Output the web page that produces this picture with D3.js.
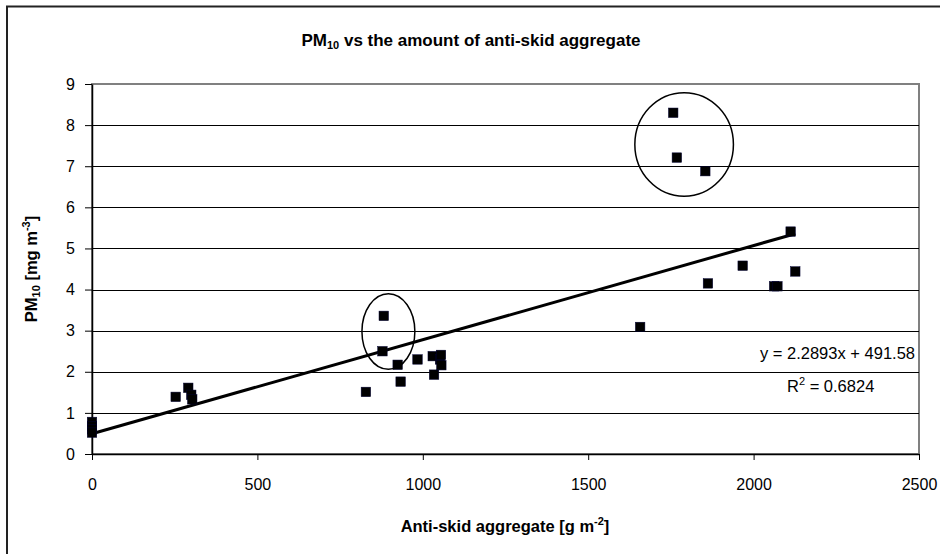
<!DOCTYPE html>
<html>
<head>
<meta charset="utf-8">
<script src="https://cdn.jsdelivr.net/npm/d3@7"></script>
<style>
  body { margin: 0; background: #fff; }
  svg { display: block; font-family: "Liberation Sans", Arial, sans-serif; }
</style>
</head>
<body>
<svg id="chart" width="940" height="554"></svg>
<script>
// anti-skid aggregate [g m-2] and PM10 [mg m-3]
const aggregate = [0, 0, 0, 0, 253, 291, 300, 303, 828, 878, 882, 924, 933, 984, 1030, 1034, 1052, 1055, 1056,
                   1657, 1757, 1768, 1854, 1862, 1967, 2062, 2072, 2112, 2126];
const pm10 = [0.78, 0.68, 0.6, 0.52, 1.39, 1.61, 1.44, 1.33, 1.51, 2.5, 3.36, 2.17, 1.76, 2.3, 2.38, 1.93, 2.3, 2.41, 2.16,
              3.09, 8.3, 7.21, 6.88, 4.15, 4.58, 4.08, 4.08, 5.41, 4.44];

const xTicks = [0, 500, 1000, 1500, 2000, 2500];
const yTicks = [0, 1, 2, 3, 4, 5, 6, 7, 8, 9];

// trendline as shown on the chart (x scaled by 1000 in the label)
const trendSlope = 0.0022893;
const trendIntercept = 0.49158;
const equationText = "y = 2.2893x + 491.58";
const r2Value = "0.6824";

// hand-drawn ellipses around outliers: centre and radii in data units
const ellipseCx = [1790, 896];
const ellipseCy = [7.53, 2.98];
const ellipseRx = [149, 80];
const ellipseRy = [1.26, 0.92];

const svg = d3.select("#chart");

// outer chart border (only the top and left edges are inside the picture)
svg.append("path")
    .attr("d", "M7,554 L7,6.5 L940,6.5")
    .attr("fill", "none")
    .attr("stroke", "#222")
    .attr("stroke-width", 2);

const plot = { left: 92, top: 84, right: 919, bottom: 454 };

const x = d3.scaleLinear().domain([0, 2500]).range([plot.left, plot.right]);
const y = d3.scaleLinear().domain([0, 9]).range([plot.bottom, plot.top]);

// plot area frame
svg.append("rect")
    .attr("x", plot.left)
    .attr("y", plot.top)
    .attr("width", plot.right - plot.left)
    .attr("height", plot.bottom - plot.top)
    .attr("fill", "#fff")
    .attr("stroke", "#808080")
    .attr("stroke-width", 2);

// horizontal gridlines
svg.append("g")
    .selectAll("line")
    .data(yTicks.filter(d => d > 0 && d < 9))
    .enter()
    .append("line")
    .attr("x1", plot.left)
    .attr("x2", plot.right)
    .attr("y1", d => Math.round(y(d)) + 0.5)
    .attr("y2", d => Math.round(y(d)) + 0.5)
    .attr("stroke", "#000")
    .attr("stroke-width", 1);

const xAxis = d3.axisBottom(x).tickValues(xTicks).tickFormat(d3.format("d"))
    .tickSize(6).tickSizeOuter(0).tickPadding(19);
const yAxis = d3.axisLeft(y).tickValues(yTicks).tickSize(7).tickSizeOuter(0).tickPadding(10);

svg.append("g")
    .attr("transform", `translate(0,${plot.bottom})`)
    .call(xAxis)
    .call(g => g.select(".domain").attr("stroke", "#000").attr("stroke-width", 1.5))
    .call(g => g.selectAll("line").attr("stroke", "#000"))
    .call(g => g.selectAll("text").attr("font-size", 16).attr("fill", "#000").attr("font-family", "Liberation Sans, Arial"));

svg.append("g")
    .attr("transform", `translate(${plot.left},0)`)
    .call(yAxis)
    .call(g => g.select(".domain").attr("stroke", "#000").attr("stroke-width", 1.5))
    .call(g => g.selectAll("line").attr("stroke", "#000"))
    .call(g => g.selectAll("text").attr("font-size", 16).attr("fill", "#000").attr("font-family", "Liberation Sans, Arial"));

// trendline
const xMax = d3.max(aggregate);
svg.append("line")
    .attr("x1", x(0))
    .attr("y1", y(trendIntercept))
    .attr("x2", x(xMax))
    .attr("y2", y(trendIntercept + trendSlope * xMax))
    .attr("stroke", "#000")
    .attr("stroke-width", 3);

// markers
const points = aggregate.map((v, i) => ({ a: v, p: pm10[i] }));
const ms = 9.5;
svg.append("g")
    .selectAll("rect")
    .data(points)
    .enter()
    .append("rect")
    .attr("x", d => x(d.a) - ms / 2)
    .attr("y", d => y(d.p) - ms / 2)
    .attr("width", ms)
    .attr("height", ms)
    .attr("fill", "#000")
    .attr("stroke", "#000033")
    .attr("stroke-width", 0.5);

// ellipses
svg.append("g")
    .selectAll("ellipse")
    .data(ellipseCx.map((cx, i) => ({ cx, cy: ellipseCy[i], rx: ellipseRx[i], ry: ellipseRy[i] })))
    .enter()
    .append("ellipse")
    .attr("cx", d => x(d.cx))
    .attr("cy", d => y(d.cy))
    .attr("rx", d => x(d.rx) - x(0))
    .attr("ry", d => y(0) - y(d.ry))
    .attr("fill", "none")
    .attr("stroke", "#000")
    .attr("stroke-width", 1.5);

// equation labels
svg.append("text")
    .attr("x", 915)
    .attr("y", 359)
    .attr("text-anchor", "end")
    .attr("font-size", 16.5)
    .text(equationText);

const r2 = svg.append("text")
    .attr("x", 787)
    .attr("y", 392)
    .attr("font-size", 16.5);
r2.append("tspan").text("R");
r2.append("tspan").attr("dy", -7).attr("font-size", 11).text("2");
r2.append("tspan").attr("dy", 7).text(" = " + r2Value);

// title
const title = svg.append("text")
    .attr("x", 471)
    .attr("y", 46)
    .attr("text-anchor", "middle")
    .attr("font-size", 17)
    .attr("font-weight", "bold");
title.append("tspan").text("PM");
title.append("tspan").attr("font-size", 11).attr("dy", 3).text("10");
title.append("tspan").attr("dy", -3).text(" vs the amount of anti-skid aggregate");

// x axis title
const xt = svg.append("text")
    .attr("x", 505)
    .attr("y", 532)
    .attr("text-anchor", "middle")
    .attr("font-size", 16.5)
    .attr("font-weight", "bold");
xt.append("tspan").text("Anti-skid aggregate [g m");
xt.append("tspan").attr("font-size", 11).attr("dy", -7).text("-2");
xt.append("tspan").attr("dy", 7).text("]");

// y axis title
const yt = svg.append("text")
    .attr("transform", `translate(37,${(plot.top + plot.bottom) / 2}) rotate(-90)`)
    .attr("text-anchor", "middle")
    .attr("font-size", 16.5)
    .attr("font-weight", "bold");
yt.append("tspan").text("PM");
yt.append("tspan").attr("font-size", 11).attr("dy", 3).text("10");
yt.append("tspan").attr("dy", -3).text(" [mg m");
yt.append("tspan").attr("font-size", 11).attr("dy", -7).text("-3");
yt.append("tspan").attr("dy", 7).text("]");
</script>
</body>
</html>
